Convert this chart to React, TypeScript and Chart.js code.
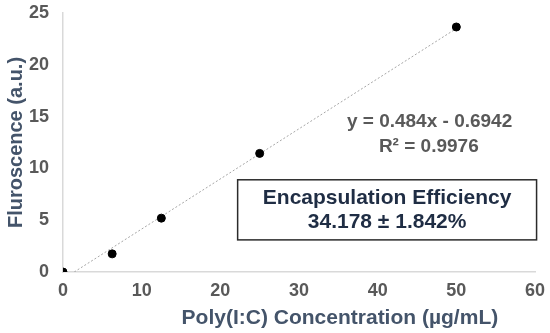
import React, { useEffect, useRef } from "react";
import { Chart, registerables } from "chart.js";
Chart.register(...registerables);

const concentrations = [0, 6.25, 12.5, 25, 50];
const fluorescence = [0, 1.75, 5.2, 11.45, 23.65];
const trendX = [1.43, 50];
const trendY = [0, 23.5];
const xTitle = "Poly(I:C) Concentration (µg/mL)";
const yTitle = "Fluroscence (a.u.)";
const equationLines = ["y = 0.484x - 0.6942", "R² = 0.9976"];
const boxLines = ["Encapsulation Efficiency", "34.178 ± 1.842%"];

const FONT = "'Liberation Sans', Arial, sans-serif";
const TICK_COLOR = "#595959";
const TITLE_COLOR = "#44546A";
const BOX_COLOR = "#1F2D44";

const annotationPlugin = {
  id: "annotations",
  afterDraw(chart: any) {
    const { ctx, scales, chartArea } = chart;
    const x = scales.x;
    const y = scales.y;
    ctx.save();
    ctx.textAlign = "center";
    ctx.textBaseline = "middle";
    // equation
    ctx.fillStyle = TICK_COLOR;
    ctx.font = `bold 19px ${FONT}`;
    ctx.fillText(equationLines[0], x.getPixelForValue(46.6), y.getPixelForValue(14.5));
    ctx.fillText(equationLines[1], x.getPixelForValue(46.5), y.getPixelForValue(12.1));
    // box
    const l = x.getPixelForValue(22.2);
    const r = x.getPixelForValue(60.2);
    const t = y.getPixelForValue(8.9);
    const b = y.getPixelForValue(3.1);
    ctx.fillStyle = "#ffffff";
    ctx.fillRect(l, t, r - l, b - t);
    ctx.strokeStyle = "#2b2b2b";
    ctx.lineWidth = 1.5;
    ctx.strokeRect(l, t, r - l, b - t);
    ctx.fillStyle = BOX_COLOR;
    ctx.font = `bold 21px ${FONT}`;
    ctx.fillText(boxLines[0], (l + r) / 2, y.getPixelForValue(7.15));
    ctx.fillText(boxLines[1], (l + r) / 2, y.getPixelForValue(4.8));
    // x title
    ctx.fillStyle = TITLE_COLOR;
    ctx.font = `bold 21px ${FONT}`;
    ctx.fillText(xTitle, x.getPixelForValue(35.2), chartArea.bottom + 46);
    ctx.restore();
  },
};

export default function App() {
  const ref = useRef<HTMLCanvasElement>(null);
  useEffect(() => {
    document.body.style.margin = "0";
    const chart = new Chart(ref.current!, {
      type: "scatter",
      data: {
        datasets: [
          {
            label: "Data",
            data: concentrations.map((c, i) => ({ x: c, y: fluorescence[i] })),
            backgroundColor: "#000000",
            borderColor: "#000000",
            pointRadius: 4,
            order: 1,
          },
          {
            label: "Trend",
            type: "line",
            data: trendX.map((c, i) => ({ x: c, y: trendY[i] })),
            borderColor: "#A6A6A6",
            borderWidth: 1,
            borderDash: [2, 2],
            pointRadius: 0,
            fill: false,
            order: 2,
          } as any,
        ],
      },
      options: {
        animation: false,
        responsive: false,
        layout: { padding: { top: 13, right: 15, left: 0, bottom: 0 } },
        plugins: { legend: { display: false }, tooltip: { enabled: false } },
        scales: {
          x: {
            type: "linear",
            min: 0,
            max: 60,
            ticks: {
              stepSize: 10,
              color: TICK_COLOR,
              font: { family: FONT, size: 18, weight: "bold" },
              padding: 8,
            },
            grid: { display: false, drawTicks: false },
            border: { display: true, color: "#D9D9D9", width: 1.5 },
            afterFit: (s: any) => {
              s.height = 61;
              s.paddingLeft = 0;
              s.paddingRight = 0;
            },
          },
          y: {
            type: "linear",
            min: 0,
            max: 25,
            ticks: {
              stepSize: 5,
              color: TICK_COLOR,
              font: { family: FONT, size: 18, weight: "bold" },
              padding: 14,
            },
            title: {
              display: true,
              text: yTitle,
              color: TITLE_COLOR,
              font: { family: FONT, size: 20, weight: "bold" },
              padding: { top: 4, bottom: 0 },
            },
            grid: { display: false, drawTicks: false },
            border: { display: true, color: "#D9D9D9", width: 1.5 },
            afterFit: (s: any) => {
              s.width = 63;
              s.paddingTop = 0;
              s.paddingBottom = 0;
            },
          },
        },
      },
      plugins: [annotationPlugin],
    });
    return () => chart.destroy();
  }, []);
  return <canvas ref={ref} width={550} height={333} style={{ display: "block" }} />;
}
